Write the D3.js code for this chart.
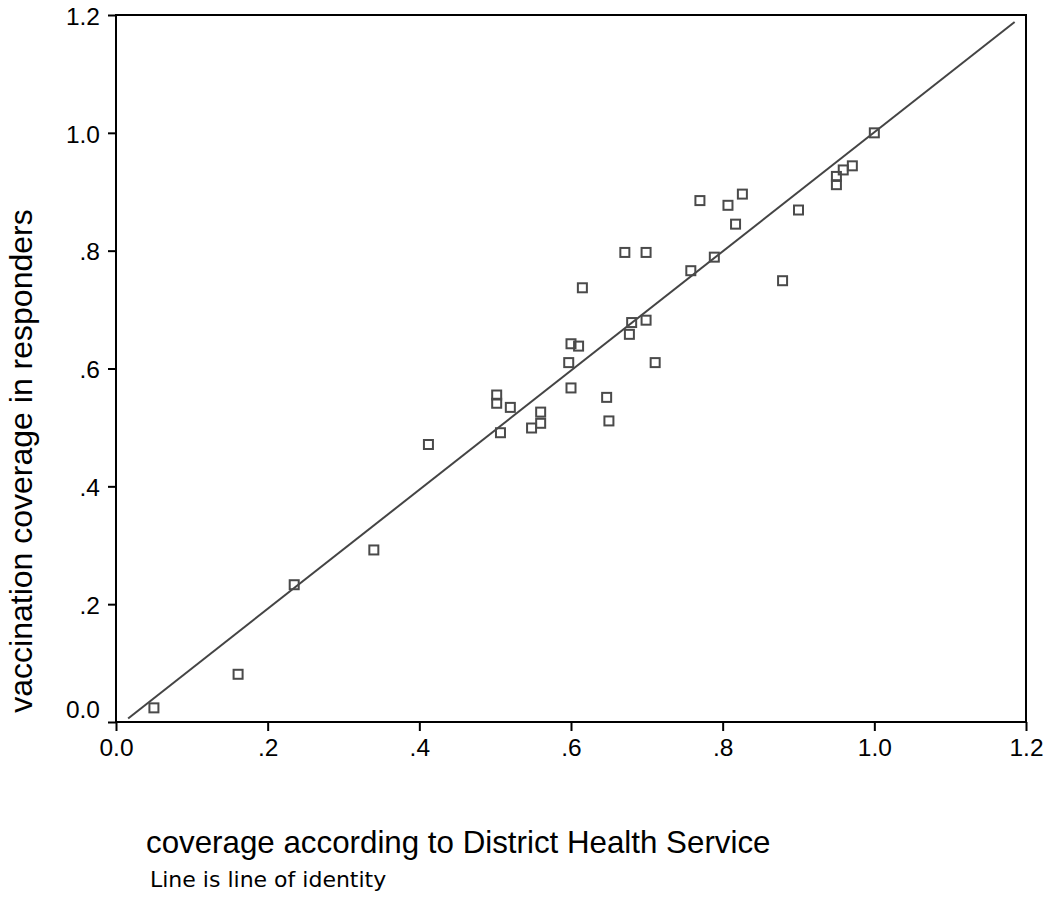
<!DOCTYPE html>
<html>
<head>
<meta charset="utf-8">
<script src="https://cdn.jsdelivr.net/npm/d3@7"></script>
<style>
  html, body { margin: 0; padding: 0; background: #fff; }
  svg { display: block; }
</style>
</head>
<body>
<svg id="chart" width="1052" height="909"></svg>
<script>
// District Health Service coverage (x) vs. coverage in responders (y)
const districtCoverage = [
  0.050, 0.161, 0.235, 0.340,
  0.412, 0.502, 0.502, 0.520, 0.507, 0.548, 0.560, 0.560,
  0.671, 0.699, 0.615, 0.680, 0.699, 0.677, 0.600, 0.610, 0.597, 0.711, 0.600, 0.647, 0.650,
  0.770, 0.807, 0.826, 0.817, 0.789, 0.758,
  0.971, 0.959, 0.950, 0.950, 0.900, 0.879,
  1.000
];
const responderCoverage = [
  0.024, 0.081, 0.233, 0.292,
  0.471, 0.555, 0.541, 0.534, 0.491, 0.499, 0.526, 0.507,
  0.797, 0.797, 0.737, 0.678, 0.682, 0.658, 0.642, 0.638, 0.610, 0.610, 0.567, 0.551, 0.511,
  0.885, 0.877, 0.896, 0.845, 0.789, 0.766,
  0.944, 0.937, 0.926, 0.912, 0.869, 0.749,
  1.000
];
// reference line (line of identity) end points as drawn
const lineX = [0.016, 1.185];
const lineY = [0.006, 1.188];

const xTicks = [0, 0.2, 0.4, 0.6, 0.8, 1.0, 1.2];
const xTickLabels = ["0.0", ".2", ".4", ".6", ".8", "1.0", "1.2"];
const yTicks = [0, 0.2, 0.4, 0.6, 0.8, 1.0, 1.2];
const yTickLabels = ["0.0", ".2", ".4", ".6", ".8", "1.0", "1.2"];

const xTitle = "coverage according to District Health Service";
const yTitle = "vaccination coverage in responders";
const footnote = "Line is line of identity";

(function draw() {
  const svg = d3.select("#chart");
  const pL = 116, pR = 1026, pT = 15, pB = 722;

  const x = d3.scaleLinear().domain([0, 1.2]).range([pL, pR]);
  const y = d3.scaleLinear().domain([0, 1.2]).range([pB, pT]);

  const tickFont = "'Liberation Sans', Arial, sans-serif";

  // Y axis
  const yAxis = svg.append("g")
    .attr("transform", `translate(${pL},0)`)
    .call(d3.axisLeft(y).tickValues(yTicks)
      .tickFormat((d, i) => yTickLabels[i])
      .tickSize(8).tickPadding(8));
  yAxis.select(".domain").remove();
  yAxis.selectAll(".tick line").attr("stroke", "#000").attr("stroke-width", 2);
  yAxis.selectAll(".tick text")
    .attr("fill", "#000")
    .style("font-family", tickFont)
    .style("font-size", "24.5px")
    .attr("dy", (d) => d === 0 ? "-0.18em" : "0.38em");

  // X axis
  const xAxis = svg.append("g")
    .attr("transform", `translate(0,${pB})`)
    .call(d3.axisBottom(x).tickValues(xTicks)
      .tickFormat((d, i) => xTickLabels[i])
      .tickSize(9).tickPadding(8));
  xAxis.select(".domain").remove();
  xAxis.selectAll(".tick line").attr("stroke", "#000").attr("stroke-width", 2);
  xAxis.selectAll(".tick text")
    .attr("fill", "#000")
    .style("font-family", tickFont)
    .style("font-size", "24.5px");

  // Frame
  svg.append("rect")
    .attr("x", pL).attr("y", pT)
    .attr("width", pR - pL).attr("height", pB - pT)
    .attr("fill", "none").attr("stroke", "#000").attr("stroke-width", 2);

  // Identity line
  svg.append("line")
    .attr("x1", x(lineX[0])).attr("y1", y(lineY[0]))
    .attr("x2", x(lineX[1])).attr("y2", y(lineY[1]))
    .attr("stroke", "#444").attr("stroke-width", 2);

  // Points
  const pts = districtCoverage.map((d, i) => [d, responderCoverage[i]]);
  svg.append("g").selectAll("rect")
    .data(pts).join("rect")
    .attr("x", d => x(d[0]) - 4.5)
    .attr("y", d => y(d[1]) - 4.5)
    .attr("width", 9).attr("height", 9)
    .attr("fill", "none")
    .attr("stroke", "#4a4a4a")
    .attr("stroke-width", 2);

  // Titles
  svg.append("text")
    .attr("x", 146).attr("y", 853)
    .style("font-family", tickFont)
    .style("font-size", "31.3px")
    .attr("fill", "#000")
    .text(xTitle);

  svg.append("text")
    .attr("transform", "translate(32,461) rotate(-90)")
    .attr("text-anchor", "middle")
    .style("font-family", tickFont)
    .style("font-size", "32px")
    .attr("fill", "#000")
    .text(yTitle);

  svg.append("text")
    .attr("x", 150).attr("y", 887)
    .style("font-family", "'DejaVu Sans', Verdana, sans-serif")
    .style("font-size", "22px")
    .attr("fill", "#000")
    .text(footnote);
})();
</script>
</body>
</html>
